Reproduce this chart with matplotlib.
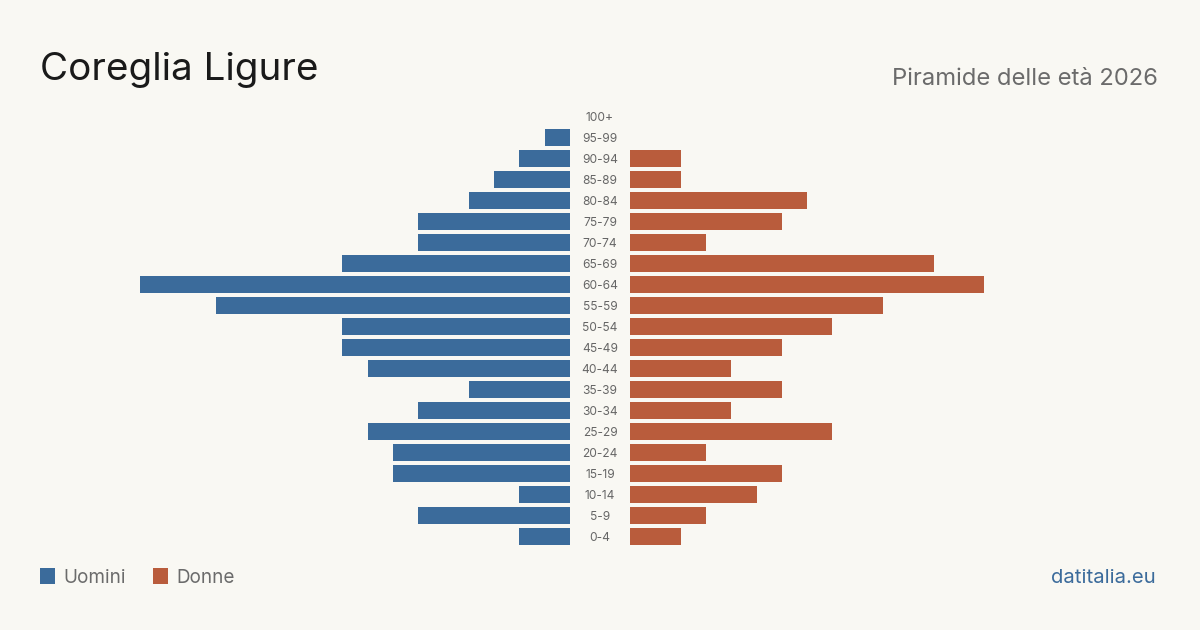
import matplotlib
matplotlib.use("Agg")
import matplotlib.pyplot as plt
from matplotlib.patches import Rectangle

plt.rcParams['font.family'] = ['Inter', 'DejaVu Sans']

age_groups = ["0-4", "5-9", "10-14", "15-19", "20-24", "25-29", "30-34", "35-39",
              "40-44", "45-49", "50-54", "55-59", "60-64", "65-69", "70-74",
              "75-79", "80-84", "85-89", "90-94", "95-99", "100+"]
men = [2, 6, 2, 7, 7, 8, 6, 4, 8, 9, 9, 14, 17, 9, 6, 6, 4, 3, 2, 1, 0]
women = [2, 3, 5, 6, 3, 8, 4, 6, 4, 6, 8, 10, 14, 12, 3, 6, 7, 2, 2, 0, 0]

BG = "#f9f8f3"
BLUE = "#3b6b9b"
ORANGE = "#b95c3c"

W, H = 1200, 630
fig = plt.figure(figsize=(12, 6.3), dpi=100, facecolor=BG)
ax = fig.add_axes([0, 0, 1, 1])
ax.set_facecolor(BG)
ax.axis('off')

unit = 25.3  # px per person
gap = 30 / unit
ax.set_xlim(-600 / unit, 600 / unit)
ax.set_ylim((536 - 630) / 21, 536 / 21)

ys = list(range(len(age_groups)))
ax.barh(ys, [-m for m in men], left=-gap, height=17 / 21, color=BLUE)
ax.barh(ys, women, left=gap, height=17 / 21, color=ORANGE)
for y, lab in zip(ys, age_groups):
    ax.text(0, y - 2.2 / 21, lab, ha='center', va='center', fontsize=8.6, color='#666666')

def px(x, y):
    return (x / W, 1 - y / H)

fig.text(*px(40, 80), "Coreglia Ligure", fontsize=27.8, color='#1a1a1a', ha='left', va='baseline')
fig.text(*px(1158, 85), "Piramide delle età 2026", fontsize=17.1, color='#6b6b6b', ha='right', va='baseline')

for x0, col, lab in [(40, BLUE, "Uomini"), (153, ORANGE, "Donne")]:
    fig.patches.append(Rectangle(px(x0, 584), 15 / W, 16 / H, transform=fig.transFigure,
                                 facecolor=col, edgecolor='none'))
    fig.text(*px(x0 + 23, 583), lab, fontsize=13.6, color='#6b6b6b', ha='left', va='baseline')

fig.text(*px(1156, 583), "datitalia.eu", fontsize=14.6, color=BLUE, ha='right', va='baseline')

fig.savefig("out.png", dpi=100, facecolor=BG)
